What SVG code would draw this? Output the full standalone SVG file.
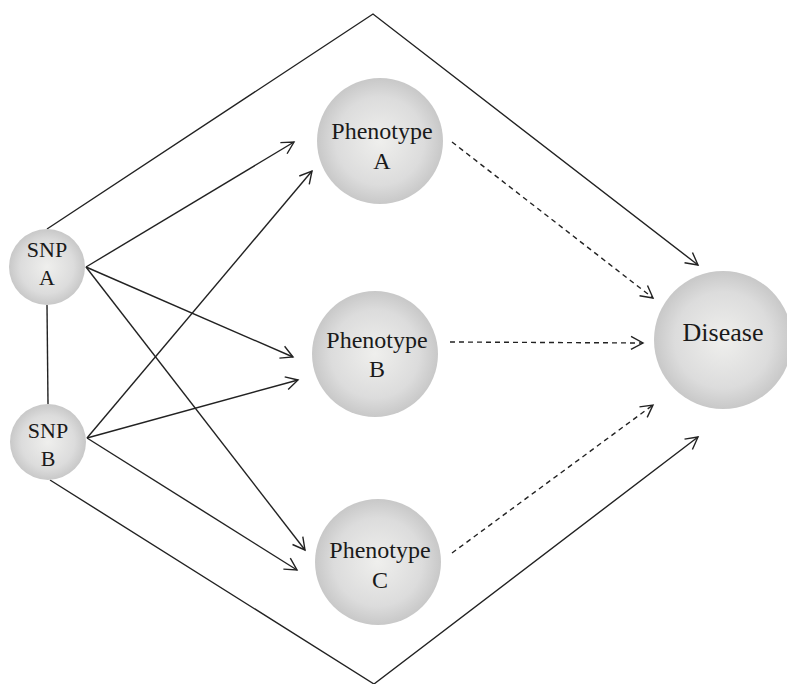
<svg xmlns="http://www.w3.org/2000/svg" width="787" height="684" viewBox="0 0 787 684">
<style>
.node{fill:url(#g);}
.lbl{font-family:"Liberation Serif","Times New Roman",serif;fill:#1a1a1a;text-anchor:middle;}
.e{fill:none;stroke:#222;stroke-width:1.4;}
.d{stroke-dasharray:5,4;}
.a{marker-end:url(#ah);}
</style>
<defs>
<radialGradient id="g" cx="0.5" cy="0.5" r="0.5">
<stop offset="0" stop-color="#efefed"/>
<stop offset="0.7" stop-color="#dcdcdc"/>
<stop offset="1" stop-color="#c8c8c8"/>
</radialGradient>
<marker id="ah" viewBox="-14 -8 16 16" markerWidth="16" markerHeight="16" refX="0" refY="0" orient="auto" markerUnits="userSpaceOnUse">
<path d="M-12,-6.5 L0,0 L-12,6.5" fill="none" stroke="#222" stroke-width="1.4"/>
</marker>
</defs>
<rect width="787" height="684" fill="#fff"/>
<g id="connectors">
<path class="e a" d="M47,229 L373,14 L698,265"/>
<path class="e a" d="M50,480 L374,684 L698,437"/>
<line class="e" x1="47" y1="305" x2="48" y2="404"/>
<line class="e a" x1="86" y1="267" x2="294" y2="142"/>
<line class="e a" x1="86" y1="267" x2="293" y2="357"/>
<line class="e a" x1="86" y1="267" x2="305" y2="550"/>
<line class="e a" x1="87" y1="438" x2="312" y2="171"/>
<line class="e a" x1="87" y1="438" x2="298" y2="380"/>
<line class="e a" x1="87" y1="438" x2="297" y2="570"/>
<line class="e d a" x1="452" y1="142" x2="653" y2="298"/>
<line class="e d a" x1="450" y1="342" x2="643" y2="343"/>
<line class="e d a" x1="452" y1="553" x2="653" y2="405"/>
</g>
<g id="snpA">
<circle class="node" cx="47" cy="267" r="38"/>
<text class="lbl" x="47" y="257" font-size="22">SNP</text>
<text class="lbl" x="47" y="285" font-size="22">A</text>
</g>
<g id="snpB">
<circle class="node" cx="48" cy="442" r="38"/>
<text class="lbl" x="48" y="438" font-size="22">SNP</text>
<text class="lbl" x="48" y="466" font-size="22">B</text>
</g>
<g id="phenotypeA">
<circle class="node" cx="380" cy="141" r="63"/>
<text class="lbl" x="382" y="139" font-size="24">Phenotype</text>
<text class="lbl" x="382" y="169" font-size="24">A</text>
</g>
<g id="phenotypeB">
<circle class="node" cx="375" cy="354" r="63"/>
<text class="lbl" x="377" y="348" font-size="24">Phenotype</text>
<text class="lbl" x="377" y="377" font-size="24">B</text>
</g>
<g id="phenotypeC">
<circle class="node" cx="378" cy="562" r="63"/>
<text class="lbl" x="380" y="558" font-size="24">Phenotype</text>
<text class="lbl" x="380" y="588" font-size="24">C</text>
</g>
<g id="disease">
<circle class="node" cx="723" cy="340" r="69"/>
<text class="lbl" x="723" y="341" font-size="26">Disease</text>
</g>
</svg>
